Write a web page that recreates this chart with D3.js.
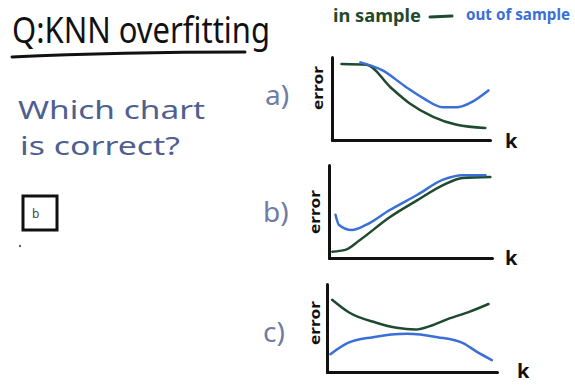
<!DOCTYPE html>
<html>
<head>
<meta charset="utf-8">
<script src="https://cdn.jsdelivr.net/npm/d3@7"></script>
<style>
  body { margin: 0; background: #fff; }
  svg { display: block; }
  text { font-family: "Noto Sans", "DejaVu Sans", sans-serif; }
</style>
</head>
<body>
<svg id="s" width="575" height="386"></svg>
<script>
// Data (k on 0..100, error on 0..100)
const panels = ["a)", "b)", "c)"],
  answer = "b",
  inA = [[6, 95], [22, 94], [37, 66], [49, 46], [64, 29], [79, 19], [97, 15]],
  outA = [[18, 97], [32, 87], [47, 66], [58, 52], [70, 41], [79, 41], [87, 46], [99, 62]],
  inB = [[2, 7], [10, 9], [19, 20], [37, 45], [54, 64], [70, 81], [82, 89], [99, 90]],
  outB = [[4, 48], [6, 37], [14, 31], [23, 37], [37, 53], [54, 70], [70, 87], [82, 92], [96, 92]],
  inC = [[3, 85], [13, 70], [29, 58], [41, 52], [52, 50], [62, 55], [72, 63], [84, 71], [95, 80]],
  outC = [[2, 21], [12, 34], [27, 41], [47, 45], [65, 41], [80, 34], [88, 24], [97, 14]];

const green = "#1f4a2e",
  blue = "#3a6fd8",
  slate = "#4f5f8f",
  svg = d3.select("#s");

// Title + underline
svg.append("text")
  .attr("x", 12).attr("y", 43)
  .attr("font-size", 36)
  .attr("textLength", 258).attr("lengthAdjust", "spacingAndGlyphs")
  .attr("fill", "#111")
  .text("Q:KNN overfitting");
svg.append("path")
  .attr("d", "M12,57 Q120,52 245,52")
  .attr("fill", "none").attr("stroke", "#111").attr("stroke-width", 3).attr("stroke-linecap", "round");

// Legend
svg.append("text")
  .attr("x", 333).attr("y", 22)
  .attr("font-size", 17).attr("font-weight", "bold")
  .attr("textLength", 88).attr("lengthAdjust", "spacingAndGlyphs")
  .attr("fill", green).text("in sample");
svg.append("line")
  .attr("x1", 430).attr("x2", 452).attr("y1", 17).attr("y2", 16)
  .attr("stroke", green).attr("stroke-width", 3).attr("stroke-linecap", "round");
svg.append("text")
  .attr("x", 466).attr("y", 20)
  .attr("font-size", 16).attr("font-weight", "bold")
  .attr("textLength", 104).attr("lengthAdjust", "spacingAndGlyphs")
  .attr("fill", blue).text("out of sample");

// Question
svg.append("text")
  .attr("x", 18).attr("y", 119)
  .attr("font-size", 26)
  .attr("textLength", 187).attr("lengthAdjust", "spacingAndGlyphs")
  .attr("fill", slate).text("Which chart");
svg.append("text")
  .attr("x", 20).attr("y", 155)
  .attr("font-size", 26)
  .attr("textLength", 160).attr("lengthAdjust", "spacingAndGlyphs")
  .attr("fill", slate).text("is correct?");

// Answer box
svg.append("rect")
  .attr("x", 23).attr("y", 196).attr("width", 34).attr("height", 34)
  .attr("fill", "#fff").attr("stroke", "#111").attr("stroke-width", 3);
svg.append("text")
  .attr("x", 32).attr("y", 218)
  .attr("font-size", 12).attr("fill", "#444").text(answer);
svg.append("circle").attr("cx", 20).attr("cy", 246).attr("r", 1.2).attr("fill", "#666");

// Panels: plot area [x0, x1] x [yBottom, yTop]
const layout = [
  { x0: 332, x1: 490, y0: 140, y1: 60, lab: [265, 105], kx: 505, ky: 148, ex: 323, ey: 88, ins: inA, outs: outA },
  { x0: 329, x1: 492, y0: 258, y1: 168, lab: [263, 222], kx: 505, ky: 265, ex: 320, ey: 212, ins: inB, outs: outB },
  { x0: 327, x1: 497, y0: 372, y1: 287, lab: [263, 342], kx: 517, ky: 378, ex: 320, ey: 323, ins: inC, outs: outC },
];

layout.forEach((p, i) => {
  const x = d3.scaleLinear().domain([0, 100]).range([p.x0, p.x1]),
    y = d3.scaleLinear().domain([0, 100]).range([p.y0, p.y1]),
    line = d3.line().x(d => x(d[0])).y(d => y(d[1])).curve(d3.curveMonotoneX),
    g = svg.append("g");

  // axes, no ticks
  const ax = g.append("g").attr("transform", `translate(0,${p.y0})`)
    .call(d3.axisBottom(x).ticks(0).tickSize(0).tickSizeOuter(0));
  const ay = g.append("g").attr("transform", `translate(${p.x0},0)`)
    .call(d3.axisLeft(y.copy().range([p.y0, p.y1 - 3])).ticks(0).tickSize(0).tickSizeOuter(0));
  [ax, ay].forEach(a => a.select(".domain").attr("stroke", "#111").attr("stroke-width", 3).attr("stroke-linecap", "round"));

  g.append("path").datum(p.ins).attr("d", line)
    .attr("fill", "none").attr("stroke", green).attr("stroke-width", 2.5).attr("stroke-linecap", "round");
  g.append("path").datum(p.outs).attr("d", line)
    .attr("fill", "none").attr("stroke", blue).attr("stroke-width", 2.5).attr("stroke-linecap", "round");

  g.append("text").attr("x", p.lab[0]).attr("y", p.lab[1])
    .attr("font-size", 28).attr("fill", "#6f7ca6").text(panels[i]);
  g.append("text").attr("x", p.kx).attr("y", p.ky)
    .attr("font-size", 20).attr("font-weight", "bold").attr("fill", "#111").text("k");
  g.append("text")
    .attr("transform", `translate(${p.ex},${p.ey}) rotate(-90)`)
    .attr("text-anchor", "middle")
    .attr("font-size", 15).attr("font-weight", "bold")
    .attr("textLength", 44).attr("lengthAdjust", "spacingAndGlyphs")
    .attr("fill", "#111").text("error");
});
</script>
</body>
</html>
